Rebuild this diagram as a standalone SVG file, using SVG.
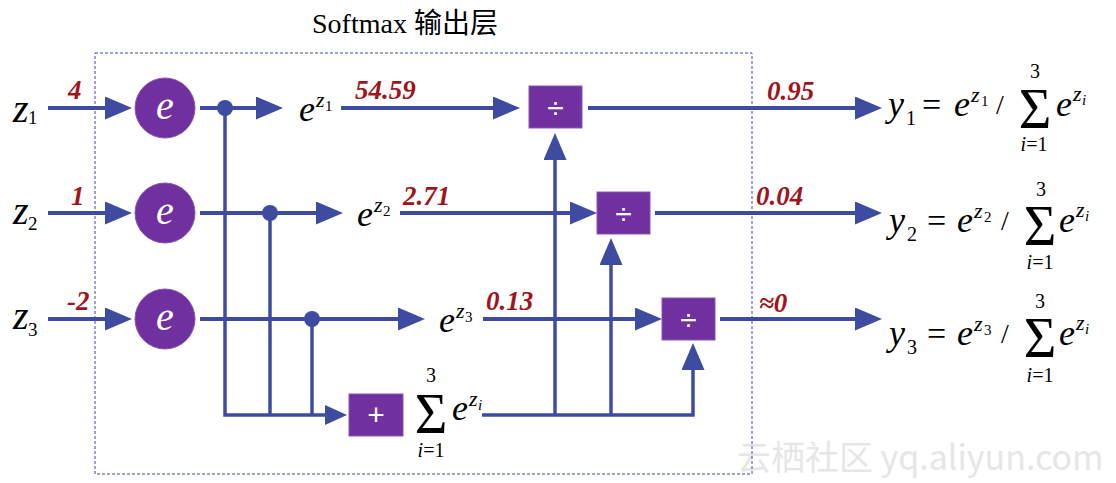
<svg xmlns="http://www.w3.org/2000/svg" width="1116" height="483" viewBox="0 0 1116 483">
<style>
  .ln{fill:none;stroke:#3d4ca0;stroke-width:4;stroke-linejoin:miter}
  .vl{fill:none;stroke:#3d4ca0;stroke-width:3.5;stroke-linejoin:miter}
  .dot{fill:#3d4ca0}
  .pp{fill:#7030a0;stroke:#8a55b5;stroke-width:1}
  .m{font-family:'Liberation Serif','Times New Roman',serif;fill:#000}
  .it{font-style:italic}
  .wt{fill:#fff}
  .op{font-family:'Liberation Sans',Arial,sans-serif;fill:#fff;text-anchor:middle}
  .mid{text-anchor:middle}
  .rd{font-family:'Liberation Serif','Times New Roman',serif;font-style:italic;font-weight:bold;fill:#a0141c;font-size:27px}
</style>
<defs>
  <marker id="ah" markerUnits="userSpaceOnUse" markerWidth="27" markerHeight="23" refX="17" refY="11.5" orient="auto">
    <path d="M0,0 L27,11.5 L0,23 z" fill="#3d4ca0"/>
  </marker>
  <marker id="ahs" markerUnits="userSpaceOnUse" markerWidth="22" markerHeight="20" refX="12" refY="10" orient="auto">
    <path d="M0,0 L22,10 L0,20 z" fill="#3d4ca0"/>
  </marker>
</defs>
<rect width="1116" height="483" fill="#fff"/>

<text x="737" y="470" font-family="'Noto Sans CJK SC', 'Liberation Sans', sans-serif" font-size="34" fill="#e6e6e6">云栖社区 yq.aliyun.com</text>

<g id="frame">
  <rect x="95" y="53" width="657" height="421" fill="none" stroke="#3d4ca0" stroke-width="1" stroke-dasharray="3,2"/>
  <text x="312" y="33" font-family="'Liberation Serif', 'Noto Sans CJK SC', serif" font-size="28" fill="#000">Softmax 输出层</text>
</g>

<g id="connectors">
  <line class="ln" x1="48" y1="108" x2="122" y2="108" marker-end="url(#ah)"/>
  <line class="ln" x1="48" y1="213" x2="122" y2="213" marker-end="url(#ah)"/>
  <line class="ln" x1="48" y1="319" x2="122" y2="319" marker-end="url(#ah)"/>
  <line class="ln" x1="200" y1="108" x2="273" y2="108" marker-end="url(#ah)"/>
  <line class="ln" x1="200" y1="213" x2="333" y2="213" marker-end="url(#ah)"/>
  <line class="ln" x1="200" y1="319" x2="415" y2="319" marker-end="url(#ah)"/>
  <line class="ln" x1="341" y1="108" x2="510" y2="108" marker-end="url(#ah)"/>
  <line class="ln" x1="400" y1="213" x2="587" y2="213" marker-end="url(#ah)"/>
  <line class="ln" x1="483" y1="319" x2="652" y2="319" marker-end="url(#ah)"/>
  <line class="ln" x1="588" y1="108" x2="872" y2="108" marker-end="url(#ah)"/>
  <line class="ln" x1="655" y1="213" x2="872" y2="213" marker-end="url(#ah)"/>
  <line class="ln" x1="720" y1="319" x2="872" y2="319" marker-end="url(#ah)"/>
  <path class="vl" d="M225,108 V415 H337" marker-end="url(#ahs)"/>
  <line class="vl" x1="270" y1="213" x2="270" y2="415"/>
  <line class="vl" x1="312" y1="319" x2="312" y2="415"/>
  <path class="vl" d="M482,415 H693 V353" marker-end="url(#ah)"/>
  <line class="vl" x1="555" y1="415" x2="555" y2="143" marker-end="url(#ah)"/>
  <line class="vl" x1="611" y1="415" x2="611" y2="248" marker-end="url(#ah)"/>
  <circle class="dot" cx="225" cy="108" r="8"/>
  <circle class="dot" cx="270" cy="213" r="8"/>
  <circle class="dot" cx="312" cy="319" r="8"/>
</g>

<g id="input-z1">
  <text class="m it" x="13" y="122" font-size="40">z</text>
  <text class="m" x="28" y="124" font-size="19">1</text>
</g>
<g id="input-z2">
  <text class="m it" x="13" y="224" font-size="40">z</text>
  <text class="m" x="28" y="230" font-size="19">2</text>
</g>
<g id="input-z3">
  <text class="m it" x="13" y="329" font-size="40">z</text>
  <text class="m" x="28" y="336" font-size="19">3</text>
</g>

<g id="exp1">
  <circle class="pp" cx="165" cy="108" r="30"/>
  <text class="m it wt mid" x="165" y="119" font-size="40">e</text>
</g>
<g id="exp2">
  <circle class="pp" cx="165" cy="213" r="30"/>
  <text class="m it wt mid" x="165" y="224" font-size="40">e</text>
</g>
<g id="exp3">
  <circle class="pp" cx="165" cy="319" r="30"/>
  <text class="m it wt mid" x="165" y="330" font-size="40">e</text>
</g>

<g id="ez1">
  <text class="m it" x="299" y="121" font-size="36">e</text>
  <text class="m it" x="316" y="107" font-size="22">z</text>
  <text class="m" x="325" y="111" font-size="15">1</text>
</g>
<g id="ez2">
  <text class="m it" x="357" y="226" font-size="36">e</text>
  <text class="m it" x="374" y="212" font-size="22">z</text>
  <text class="m" x="383" y="216" font-size="15">2</text>
</g>
<g id="ez3">
  <text class="m it" x="439" y="332" font-size="36">e</text>
  <text class="m it" x="456" y="318" font-size="22">z</text>
  <text class="m" x="465" y="322" font-size="15">3</text>
</g>

<g id="div1">
  <rect class="pp" x="529" y="86" width="53" height="42"/>
  <text class="op" x="555.5" y="118" font-size="30">÷</text>
</g>
<g id="div2">
  <rect class="pp" x="597" y="192" width="53" height="42"/>
  <text class="op" x="623.5" y="224" font-size="30">÷</text>
</g>
<g id="div3">
  <rect class="pp" x="662" y="298" width="53" height="42"/>
  <text class="op" x="688.5" y="330" font-size="30">÷</text>
</g>

<g id="sum">
  <rect class="pp" x="349" y="394" width="54" height="42"/>
  <text class="op" x="376" y="425" font-size="30">+</text>
  <text class="m mid" x="431" y="382" font-size="20">3</text>
  <text class="m mid" x="431" y="433" font-size="56">Σ</text>
  <text class="m mid" x="431" y="457" font-size="20"><tspan font-style="italic">i</tspan>=1</text>
  <text class="m it" x="452" y="420" font-size="36">e</text>
  <text class="m it" x="469" y="406" font-size="22">z</text>
  <text class="m it" x="478" y="410" font-size="15">i</text>
</g>

<g id="labels">
  <text class="rd" x="68" y="99">4</text>
  <text class="rd" x="71" y="205">1</text>
  <text class="rd" x="67" y="310">-2</text>
  <text class="rd" x="355" y="99">54.59</text>
  <text class="rd" x="403" y="205">2.71</text>
  <text class="rd" x="486" y="310">0.13</text>
  <text class="rd" x="767" y="100">0.95</text>
  <text class="rd" x="756" y="205">0.04</text>
  <text class="rd" x="759" y="312" font-weight="normal" font-size="28">≈0</text>
</g>

<g id="out1">
  <text class="m it" x="888" y="116" font-size="36">y</text>
  <text class="m" x="906" y="125" font-size="20">1</text>
  <text class="m" x="922" y="116" font-size="34">=</text>
  <text class="m it" x="954" y="116" font-size="36">e</text>
  <text class="m it" x="971" y="102" font-size="22">z</text>
  <text class="m" x="981" y="106" font-size="15">1</text>
  <text class="m" x="996" y="114" font-size="28">/</text>
  <text class="m mid" x="1035" y="78" font-size="20">3</text>
  <text class="m mid" x="1035" y="128" font-size="56">Σ</text>
  <text class="m mid" x="1034" y="151" font-size="20"><tspan font-style="italic">i</tspan>=1</text>
  <text class="m it" x="1056" y="116" font-size="36">e</text>
  <text class="m it" x="1073" y="101" font-size="22">z</text>
  <text class="m it" x="1082" y="105" font-size="15">i</text>
</g>
<g id="out2">
  <text class="m it" x="889" y="232" font-size="36">y</text>
  <text class="m" x="907" y="241" font-size="20">2</text>
  <text class="m" x="927" y="232" font-size="34">=</text>
  <text class="m it" x="957" y="232" font-size="36">e</text>
  <text class="m it" x="974" y="218" font-size="22">z</text>
  <text class="m" x="984" y="222" font-size="15">2</text>
  <text class="m" x="1001" y="230" font-size="28">/</text>
  <text class="m mid" x="1041" y="196" font-size="20">3</text>
  <text class="m mid" x="1040" y="245" font-size="56">Σ</text>
  <text class="m mid" x="1040" y="269" font-size="20"><tspan font-style="italic">i</tspan>=1</text>
  <text class="m it" x="1059" y="232" font-size="36">e</text>
  <text class="m it" x="1076" y="217" font-size="22">z</text>
  <text class="m it" x="1085" y="221" font-size="15">i</text>
</g>
<g id="out3">
  <text class="m it" x="889" y="345" font-size="36">y</text>
  <text class="m" x="907" y="354" font-size="20">3</text>
  <text class="m" x="927" y="345" font-size="34">=</text>
  <text class="m it" x="957" y="345" font-size="36">e</text>
  <text class="m it" x="974" y="331" font-size="22">z</text>
  <text class="m" x="984" y="335" font-size="15">3</text>
  <text class="m" x="1001" y="343" font-size="28">/</text>
  <text class="m mid" x="1040" y="308" font-size="20">3</text>
  <text class="m mid" x="1040" y="357" font-size="56">Σ</text>
  <text class="m mid" x="1040" y="382" font-size="20"><tspan font-style="italic">i</tspan>=1</text>
  <text class="m it" x="1059" y="345" font-size="36">e</text>
  <text class="m it" x="1076" y="330" font-size="22">z</text>
  <text class="m it" x="1085" y="334" font-size="15">i</text>
</g>
</svg>
